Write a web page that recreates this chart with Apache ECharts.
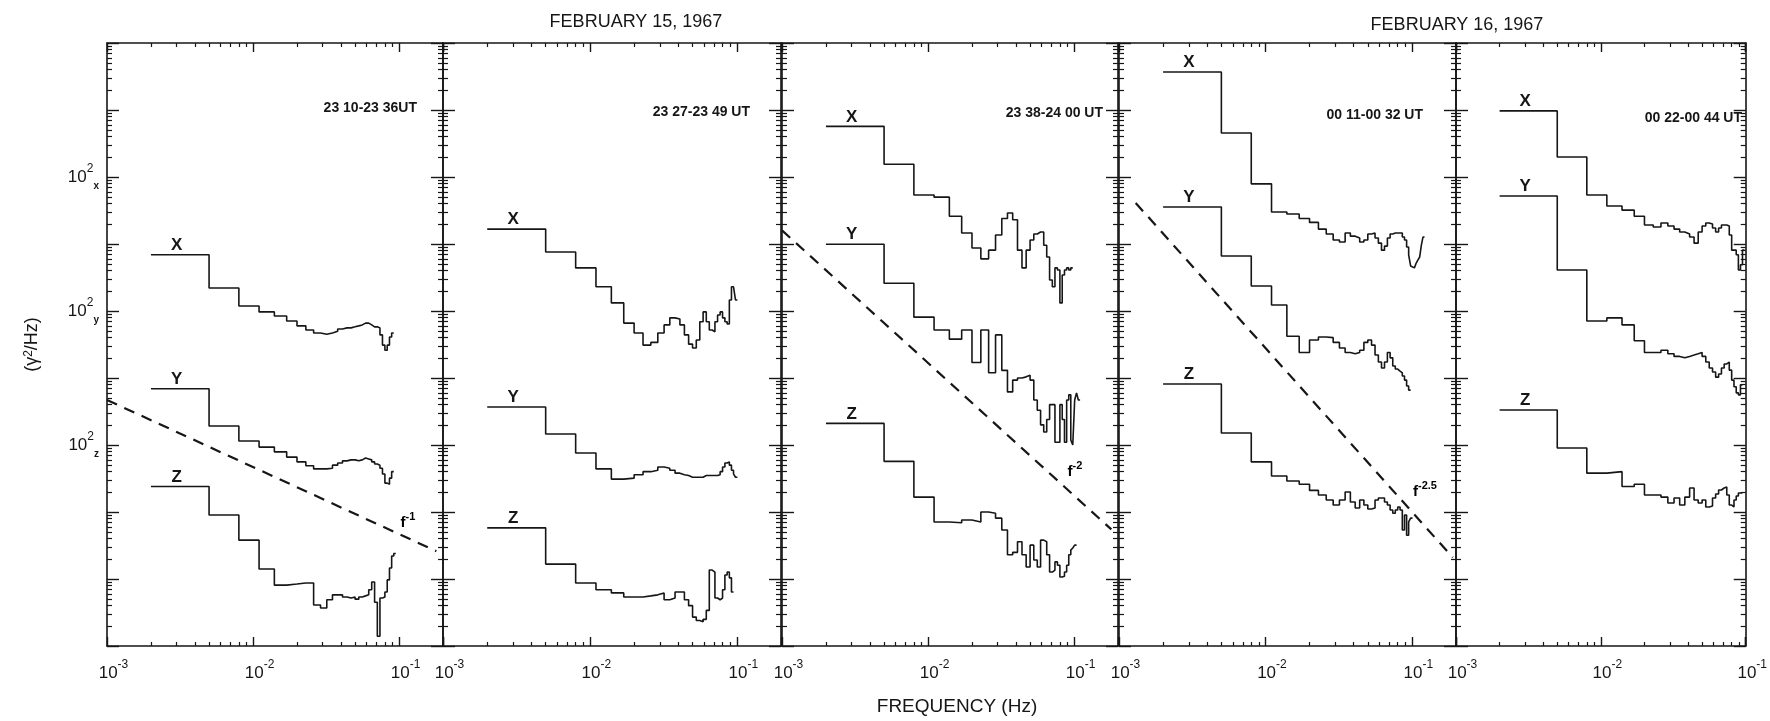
<!DOCTYPE html>
<html>
<head>
<meta charset="utf-8">
<script src="https://cdn.jsdelivr.net/npm/echarts@6/dist/echarts.min.js"></script>
<style>
    html, body { margin: 0; padding: 0; background: #fff; }
    #main { width: 1770px; height: 721px; }
</style>
</head>
<body>
<div id="main"></div>
<script>
// left edges of the spectral bins (Hz)
var freqEdges = [0.002, 0.005, 0.008, 0.011, 0.014, 0.017, 0.020, 0.023, 0.026, 0.029,
    0.032, 0.035, 0.038, 0.041, 0.044, 0.047, 0.050, 0.053, 0.056, 0.059,
    0.062, 0.065, 0.068, 0.071, 0.074, 0.077, 0.080, 0.083, 0.086, 0.089,
    0.092, 0.095, 0.098, 0.101, 0.104, 0.107, 0.110, 0.113, 0.116, 0.119, 0.122];

// power spectra (gamma^2/Hz), one value per bin
// 2310-2336 UT
var p1X = [6.9, 2.2, 1.19, 0.97, 0.84, 0.71, 0.60, 0.52, 0.47, 0.45, 0.47, 0.50, 0.54, 0.56, 0.56, 0.58, 0.60, 0.62, 0.66, 0.66, 0.62, 0.58, 0.58, 0.56, 0.44, 0.31, 0.26, 0.31, 0.41, 0.47];
var p1Y = [6.9, 1.92, 1.15, 0.93, 0.79, 0.66, 0.56, 0.49, 0.44, 0.44, 0.45, 0.50, 0.54, 0.58, 0.60, 0.60, 0.58, 0.60, 0.64, 0.62, 0.60, 0.56, 0.52, 0.50, 0.45, 0.37, 0.27, 0.26, 0.32, 0.40];
var p1Z = [24, 9.0, 3.8, 1.41, 0.81, 0.84, 0.87, 0.87, 0.41, 0.37, 0.49, 0.58, 0.58, 0.54, 0.52, 0.54, 0.50, 0.54, 0.56, 0.58, 0.69, 0.90, 0.45, 0.14, 0.52, 0.54, 0.64, 0.97, 1.46, 2.2, 2.4];
// 2327-2349 UT
var p2X = [16.7, 7.6, 4.4, 2.3, 1.32, 0.66, 0.47, 0.31, 0.34, 0.47, 0.62, 0.79, 0.76, 0.62, 0.44, 0.32, 0.28, 0.37, 0.69, 0.97, 0.69, 0.52, 0.49, 0.69, 0.87, 0.97, 0.79, 0.69, 0.64, 1.46, 2.3, 2.3, 1.46];
var p2Y = [3.7, 1.46, 0.76, 0.44, 0.31, 0.32, 0.36, 0.40, 0.42, 0.47, 0.45, 0.42, 0.38, 0.36, 0.35, 0.33, 0.33, 0.33, 0.33, 0.35, 0.35, 0.35, 0.35, 0.35, 0.36, 0.40, 0.47, 0.54, 0.56, 0.50, 0.42, 0.37, 0.33];
var p2Z = [5.8, 1.67, 0.87, 0.69, 0.62, 0.54, 0.54, 0.56, 0.58, 0.62, 0.49, 0.52, 0.64, 0.64, 0.49, 0.40, 0.27, 0.24, 0.23, 0.25, 0.34, 1.36, 1.27, 0.52, 0.49, 0.52, 0.69, 1.15, 1.27, 1.04, 0.64];
// 2338-2400 UT
var p3X = [570, 155, 54, 50, 26, 14.6, 8.7, 6.0, 8.1, 13.6, 24, 29, 23, 8.1, 4.4, 8.1, 11.5, 14.1, 15.1, 15.1, 9.6, 6.4, 2.9, 2.3, 4.4, 4.1, 1.32, 3.45, 4.1, 4.4, 4.1, 4.4];
var p3Y = [990, 260, 81, 52, 38, 52, 17, 52, 12, 44, 13, 6.2, 9.3, 10, 10.4, 11, 9.3, 4.7, 3.3, 2.0, 1.56, 2.4, 4.0, 4.0, 1.1, 1.1, 4.0, 2.4, 1.1, 4.7, 5.6, 1.19, 1.0, 4.7, 6.0, 4.7];
var p3Z = [210, 57, 16.7, 7.1, 6.9, 7.6, 7.1, 10, 9.6, 8.1, 5.4, 2.3, 2.5, 3.6, 2.3, 1.51, 3.2, 1.92, 1.51, 3.8, 3.6, 2.3, 1.27, 1.36, 1.8, 1.6, 1.07, 1.1, 1.27, 1.6, 2.3, 2.7, 2.9, 3.2];
// 0011-0032 UT
var p4X = [3700, 454, 79, 30, 28, 24, 21, 16.7, 14.1, 11.5, 10.7, 14.6, 13.1, 12.3, 10.7, 11.5, 14.1, 14.6, 12.3, 10.3, 8.1, 9.3, 12.3, 14.1, 14.6, 14.6, 14.6, 14.6, 12.7, 11.5, 9.0, 6.9, 4.7, 4.4, 4.4, 5.2, 5.8, 6.4, 9.6, 12.7];
var p4Y = [3570, 662, 236, 123, 42, 24, 37, 41, 40, 34, 28, 24, 23, 24, 26, 34, 37, 31, 22, 17.3, 14.1, 17.3, 24, 20, 15.1, 13.6, 12.7, 11.9, 10.7, 9.3, 7.6, 6.6];
var p4Z = [813, 151, 56, 34.5, 29, 26, 21, 17.9, 15.1, 12.7, 15.1, 19.9, 14.1, 11.5, 15.1, 12.7, 11.1, 11.5, 15.1, 16.2, 16.2, 14.1, 12.7, 10.7, 9.6, 10.7, 11.9, 10.7, 5.4, 9.0, 4.5, 7.1, 8.1];
// 0022-0044 UT
var p5X = [970, 199, 54, 37, 32, 26, 19.2, 17.9, 20.6, 18.6, 16.7, 15.1, 14.1, 12.7, 10.3, 15.1, 18.6, 20.6, 19.9, 17.3, 15.1, 17.3, 19.2, 19.2, 18.6, 13.6, 8.1, 8.1, 6.9, 4.1, 4.9, 8.1];
var p5Y = [5200, 409, 71, 79, 62, 36, 24, 24, 26, 23, 21, 20, 21, 22, 23, 24, 21, 17.3, 14.1, 12.3, 10.3, 11.5, 14.1, 16.2, 17.3, 13.1, 9.3, 7.4, 6.0, 5.6, 7.9];
var p5Z = [333, 90, 38, 40, 24, 26, 17.9, 17.9, 16.7, 13.6, 16.2, 12.7, 16.7, 22.8, 15.1, 13.6, 15.1, 11.9, 12.3, 16.2, 18.6, 21.3, 22.8, 23.6, 17.9, 12.7, 11.9, 15.1, 17.3, 19.2, 19.2];

// dashed power-law guides, in plotted (shared axis) units
var slopeF1 = [[0.001, 4700], [0.18, 26]];
var slopeF2 = [[0.001, 1.6e6], [0.18, 55]];
var slopeF25 = [[0.0013, 4.1e6], [0.19, 21]];

var timeLabels = ['23 10-23 36UT', '23 27-23 49 UT', '23 38-24 00 UT', '00 11-00 32 UT', '00 22-00 44 UT'];

(function () {
    var myChart = echarts.init(document.getElementById('main'));
    var font = "'Liberation Sans', Arial, sans-serif";
    var ink = '#161616';

    var panels = [
        { X: p1X, Y: p1Y, Z: p1Z, xMax: 0.2 },
        { X: p2X, Y: p2Y, Z: p2Z, xMax: 0.2 },
        { X: p3X, Y: p3Y, Z: p3Z, xMax: 0.2 },
        { X: p4X, Y: p4Y, Z: p4Z, xMax: 0.2 },
        { X: p5X, Y: p5Y, Z: p5Z, xMax: 0.1 }
    ];
    // each component is drawn on its own offset scale (10^2 X at 10^7 etc.)
    var shift = { X: 1e5, Y: 1e3, Z: 10 };
    var yMarks = { 3: 'z', 5: 'y', 7: 'x' };

    var gridLeft = [107, 443, 782, 1119, 1456];
    var gridWidth = [336, 338, 336, 337, 294];

    function stepPoints(vals, k) {
        var pts = [];
        for (var i = 0; i < vals.length; i++) {
            pts.push([freqEdges[i], vals[i] * k]);
        }
        pts.push([freqEdges[vals.length], vals[vals.length - 1] * k]);
        return pts;
    }

    function isDecade(v) {
        var l = Math.log10(v);
        return Math.abs(l - Math.round(l)) < 1e-6;
    }

    var supRich = {
        b: { fontSize: 17, lineHeight: 28, fontFamily: font, color: ink },
        pad: { width: 13 },
        e: { fontSize: 12, lineHeight: 13, verticalAlign: 'top', fontFamily: font, color: ink },
        s: { fontSize: 10, lineHeight: 12, verticalAlign: 'bottom', fontFamily: font, color: ink, fontWeight: 'bold' }
    };
    var smallRich = {
        b: { fontSize: 15, lineHeight: 24, fontFamily: font, color: ink, fontWeight: 'bold' },
        e: { fontSize: 11, lineHeight: 12, verticalAlign: 'top', fontFamily: font, color: ink, fontWeight: 'bold' }
    };

    var grids = [], xAxes = [], yAxes = [], series = [];

    panels.forEach(function (p, i) {
        grids.push({ left: gridLeft[i], width: gridWidth[i], top: 43, height: 603 });

        var tickCommon = {
            axisLine: { lineStyle: { color: ink, width: 1.6 } },
            axisTick: { inside: true, length: 9, lineStyle: { color: ink, width: 1.4 } },
            minorTick: { show: true, splitNumber: 9, length: 4, lineStyle: { color: ink, width: 1.2 } },
            splitLine: { show: false },
            minorSplitLine: { show: false }
        };

        xAxes.push(Object.assign({
            type: 'log', gridIndex: i, position: 'bottom', min: 0.001, max: p.xMax,
            axisLabel: {
                margin: 13,
                formatter: function (v) {
                    if (!isDecade(v)) return '';
                    return '{pad|}{b|10}{e|' + Math.round(Math.log10(v)) + '}';
                },
                rich: supRich
            },
            name: i === 2 ? 'FREQUENCY (Hz)' : '',
            nameLocation: 'middle',
            nameGap: 51,
            nameTextStyle: { fontSize: 19, fontFamily: font, color: ink, padding: [0, 0, 0, 14] }
        }, tickCommon));
        xAxes.push(Object.assign({
            type: 'log', gridIndex: i, position: 'top', min: 0.001, max: p.xMax,
            axisLabel: { show: false }
        }, tickCommon));

        var yTicks = Object.assign({}, tickCommon, {
            axisTick: { inside: true, length: 12, lineStyle: { color: ink, width: 1.4 } },
            minorTick: { show: true, splitNumber: 9, length: 5, lineStyle: { color: ink, width: 1.2 } }
        });
        yAxes.push(Object.assign({
            type: 'log', gridIndex: i, position: 'left', min: 1, max: 1e9,
            axisLabel: {
                show: i === 0,
                margin: 8,
                formatter: function (v) {
                    var e = Math.round(Math.log10(v));
                    if (!isDecade(v) || !yMarks[e]) return '';
                    return '{b|10}{e|2}{s|' + yMarks[e] + '}';
                },
                rich: supRich
            },
            name: i === 0 ? '(γ{e|2}/Hz)' : '',
            nameLocation: 'middle',
            nameGap: 66,
            nameRotate: 90,
            nameTextStyle: { fontSize: 18, fontFamily: font, color: ink, rich: supRich }
        }, yTicks));
        yAxes.push(Object.assign({
            type: 'log', gridIndex: i, position: 'right', min: 1, max: 1e9,
            axisLabel: { show: false }
        }, yTicks));

        ['X', 'Y', 'Z'].forEach(function (c) {
            var vals = p[c];
            series.push({
                type: 'line',
                name: c,
                step: 'end',
                xAxisIndex: 2 * i,
                yAxisIndex: 2 * i,
                symbol: 'none',
                silent: true,
                lineStyle: { color: ink, width: 1.6 },
                data: stepPoints(vals, shift[c]),
                markPoint: {
                    symbol: 'circle',
                    symbolSize: 0,
                    silent: true,
                    label: { show: true, position: 'top', distance: 1, formatter: c, fontSize: 17, fontWeight: 'bold', fontFamily: font, color: ink },
                    data: [{ coord: [0.003, vals[0] * shift[c]] }]
                }
            });
        });
    });

    // dashed guide lines
    [[0, slopeF1], [2, slopeF2], [3, slopeF25]].forEach(function (g) {
        series.push({
            type: 'line',
            xAxisIndex: 2 * g[0],
            yAxisIndex: 2 * g[0],
            symbol: 'none',
            silent: true,
            lineStyle: { color: ink, width: 2.2, type: [11, 8] },
            data: g[1]
        });
    });

    var graphic = [
        { type: 'text', x: 636, y: 22, style: { text: 'FEBRUARY 15, 1967', fontSize: 18, fontFamily: font, fill: ink, align: 'center', verticalAlign: 'middle' } },
        { type: 'text', x: 1457, y: 25, style: { text: 'FEBRUARY 16, 1967', fontSize: 18, fontFamily: font, fill: ink, align: 'center', verticalAlign: 'middle' } },
        { type: 'text', x: 408, y: 523, style: { text: '{b|f}{e|-1}', rich: smallRich, align: 'center', verticalAlign: 'middle' } },
        { type: 'text', x: 1075, y: 472, style: { text: '{b|f}{e|-2}', rich: smallRich, align: 'center', verticalAlign: 'middle' } },
        { type: 'text', x: 1425, y: 492, style: { text: '{b|f}{e|-2.5}', rich: smallRich, align: 'center', verticalAlign: 'middle' } }
    ];
    var timePos = [[417, 108], [750, 112], [1103, 113], [1423, 115], [1742, 118]];
    timeLabels.forEach(function (t, i) {
        graphic.push({ type: 'text', x: timePos[i][0], y: timePos[i][1], style: { text: t, fontSize: 14, fontWeight: 'bold', fontFamily: font, fill: ink, align: 'right', verticalAlign: 'middle' } });
    });

    var option = {
        backgroundColor: '#fff',
        animation: false,
        grid: grids,
        xAxis: xAxes,
        yAxis: yAxes,
        series: series,
        graphic: graphic
    };

    myChart.setOption(option);

    window.addEventListener('resize', function () {
        myChart.resize();
    });
})();
</script>
</body>
</html>
